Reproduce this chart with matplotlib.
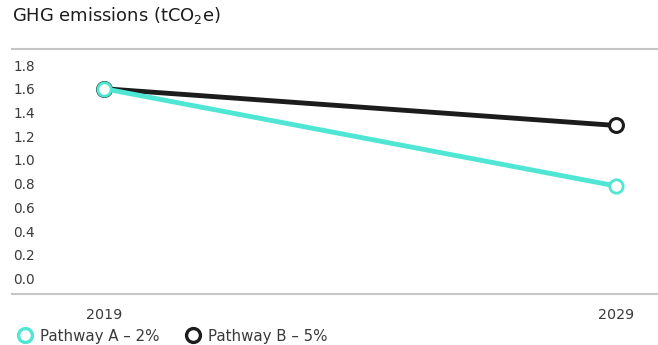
import matplotlib
matplotlib.use("Agg")
import matplotlib.pyplot as plt
from matplotlib.lines import Line2D

plt.rcParams['font.family'] = ['DejaVu Sans']
plt.rcParams['mathtext.default'] = 'regular'

years = ['2019', '2029']
pathway_a = [1.6, 0.78]
pathway_b = [1.6, 1.29]
yticks = [0.0, 0.2, 0.4, 0.6, 0.8, 1.0, 1.2, 1.4, 1.6, 1.8]

teal = '#4fe6d3'
dark = '#1c1c1c'
grey = '#c6c6c6'
txt = '#3a3a3a'

fig = plt.figure(figsize=(6.58, 3.45), dpi=100)
ax = fig.add_axes([12/658, 1 - 293.5/345, 1 - 12/658, (293.5 - 49)/345])

x = range(len(years))
ax.plot(x, pathway_b, color=dark, lw=3.5, marker='o', ms=10.0, mfc='white',
        mec=dark, mew=2.2, solid_capstyle='round', zorder=3)
ax.plot(x, pathway_a, color=teal, lw=3.5, marker='o', ms=9.6, mfc='white',
        mec=teal, mew=2.0, solid_capstyle='round', zorder=4)

ax.set_xlim(-0.18, 1.082)
ax.set_ylim(-0.127, 1.935)
ax.set_xticks(list(x))
ax.set_xticklabels(years)
ax.set_yticks(yticks)
ax.set_yticklabels(['%.1f' % v for v in yticks])

for s in ['left', 'right']:
    ax.spines[s].set_visible(False)
for s in ['top', 'bottom']:
    ax.spines[s].set_color(grey)
    ax.spines[s].set_linewidth(1.5)

ax.tick_params(axis='y', length=0, pad=-16.5, labelsize=9.8, labelcolor=txt)
ax.tick_params(axis='x', length=0, pad=10.5, labelsize=10.3, labelcolor=txt)

fig.text(12/658, 1 - 16/345, r'GHG emissions (tCO$_2$e)', fontsize=12.9,
         color=dark, va='center', ha='left')

handles = [
    Line2D([], [], ls='none', marker='o', ms=10, mfc='white', mec=teal, mew=2.4),
    Line2D([], [], ls='none', marker='o', ms=10, mfc='white', mec=dark, mew=2.4),
]
fig.legend(handles, ['Pathway A – 2%', 'Pathway B – 5%'], loc='center left',
           bbox_to_anchor=(11.5/658, 9/345), borderaxespad=0, ncol=2,
           frameon=False, fontsize=10.8, handlelength=1.0, handletextpad=0.5,
           columnspacing=1.7, labelcolor=txt)

fig.savefig('out.png', dpi=100)
